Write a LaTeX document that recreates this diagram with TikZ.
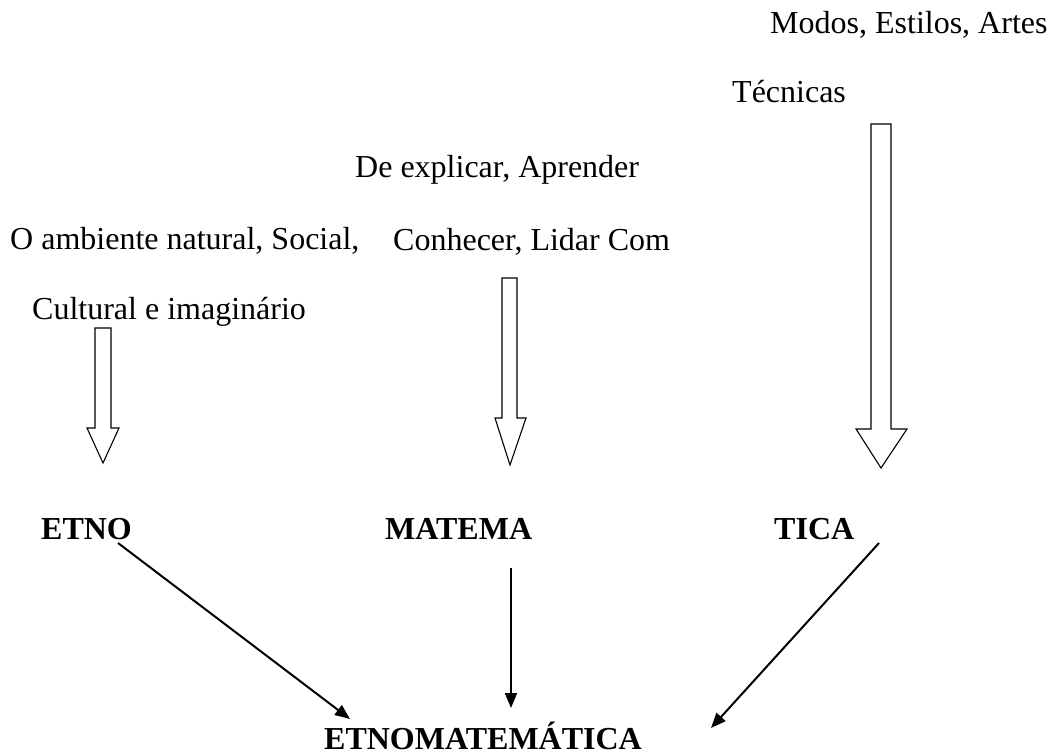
\documentclass[tikz,border=0pt]{standalone}
\usepackage{fontspec}
\setmainfont{Liberation Serif}
\usetikzlibrary{arrows.meta}
\begin{document}
\begin{tikzpicture}[x=1pt,y=-1pt,
  txt/.style={inner sep=0pt, anchor=base west, font=\fontsize{32}{38}\selectfont},
  btxt/.style={inner sep=0pt, anchor=base west, font=\fontsize{32}{38}\selectfont\bfseries},
  blockarrow/.style={draw=black, line width=1.1pt, fill=white, line join=miter},
  link/.style={draw=black, line width=2pt, -{Triangle[length=15pt,width=12pt]}}]
\useasboundingbox (0,0) rectangle (1048,751);
% texts
\node[txt] (modos) at (770,34) {Modos, Estilos, Artes};
\node[txt] (tec) at (732,103) {Técnicas};
\node[txt] (dex) at (355,178) {De explicar, Aprender};
\node[txt] (amb) at (10,249) {O ambiente natural, Social,};
\node[txt] (con) at (393,250) {Conhecer, Lidar Com};
\node[txt] (cul) at (32,319) {Cultural e imaginário};
\node[btxt] (etno) at (41,539) {ETNO};
\node[btxt] (matema) at (385,539) {MATEMA};
\node[btxt] (tica) at (774,539) {TICA};
\node[btxt] (etnomat) at (324,749) {ETNOMATEMÁTICA};
% block arrows
\draw[blockarrow] (95,328) -- (111,328) -- (111,428) -- (119,428) -- (103,463) -- (87,428) -- (95,428) -- cycle;
\draw[blockarrow] (502,278) -- (517,278) -- (517,418) -- (526,418) -- (510,465) -- (495,418) -- (502,418) -- cycle;
\draw[blockarrow] (871,124) -- (891,124) -- (891,429) -- (907,429) -- (881,468) -- (856,429) -- (871,429) -- cycle;
% connectors
\coordinate (e1) at (118,543);
\coordinate (e2) at (350,719);
\coordinate (m1) at (511,568);
\coordinate (m2) at (511,708);
\coordinate (t1) at (879,543);
\coordinate (t2) at (711,728);
\draw[link] (e1) -- (e2);
\draw[link] (m1) -- (m2);
\draw[link] (t1) -- (t2);
\end{tikzpicture}
\end{document}
